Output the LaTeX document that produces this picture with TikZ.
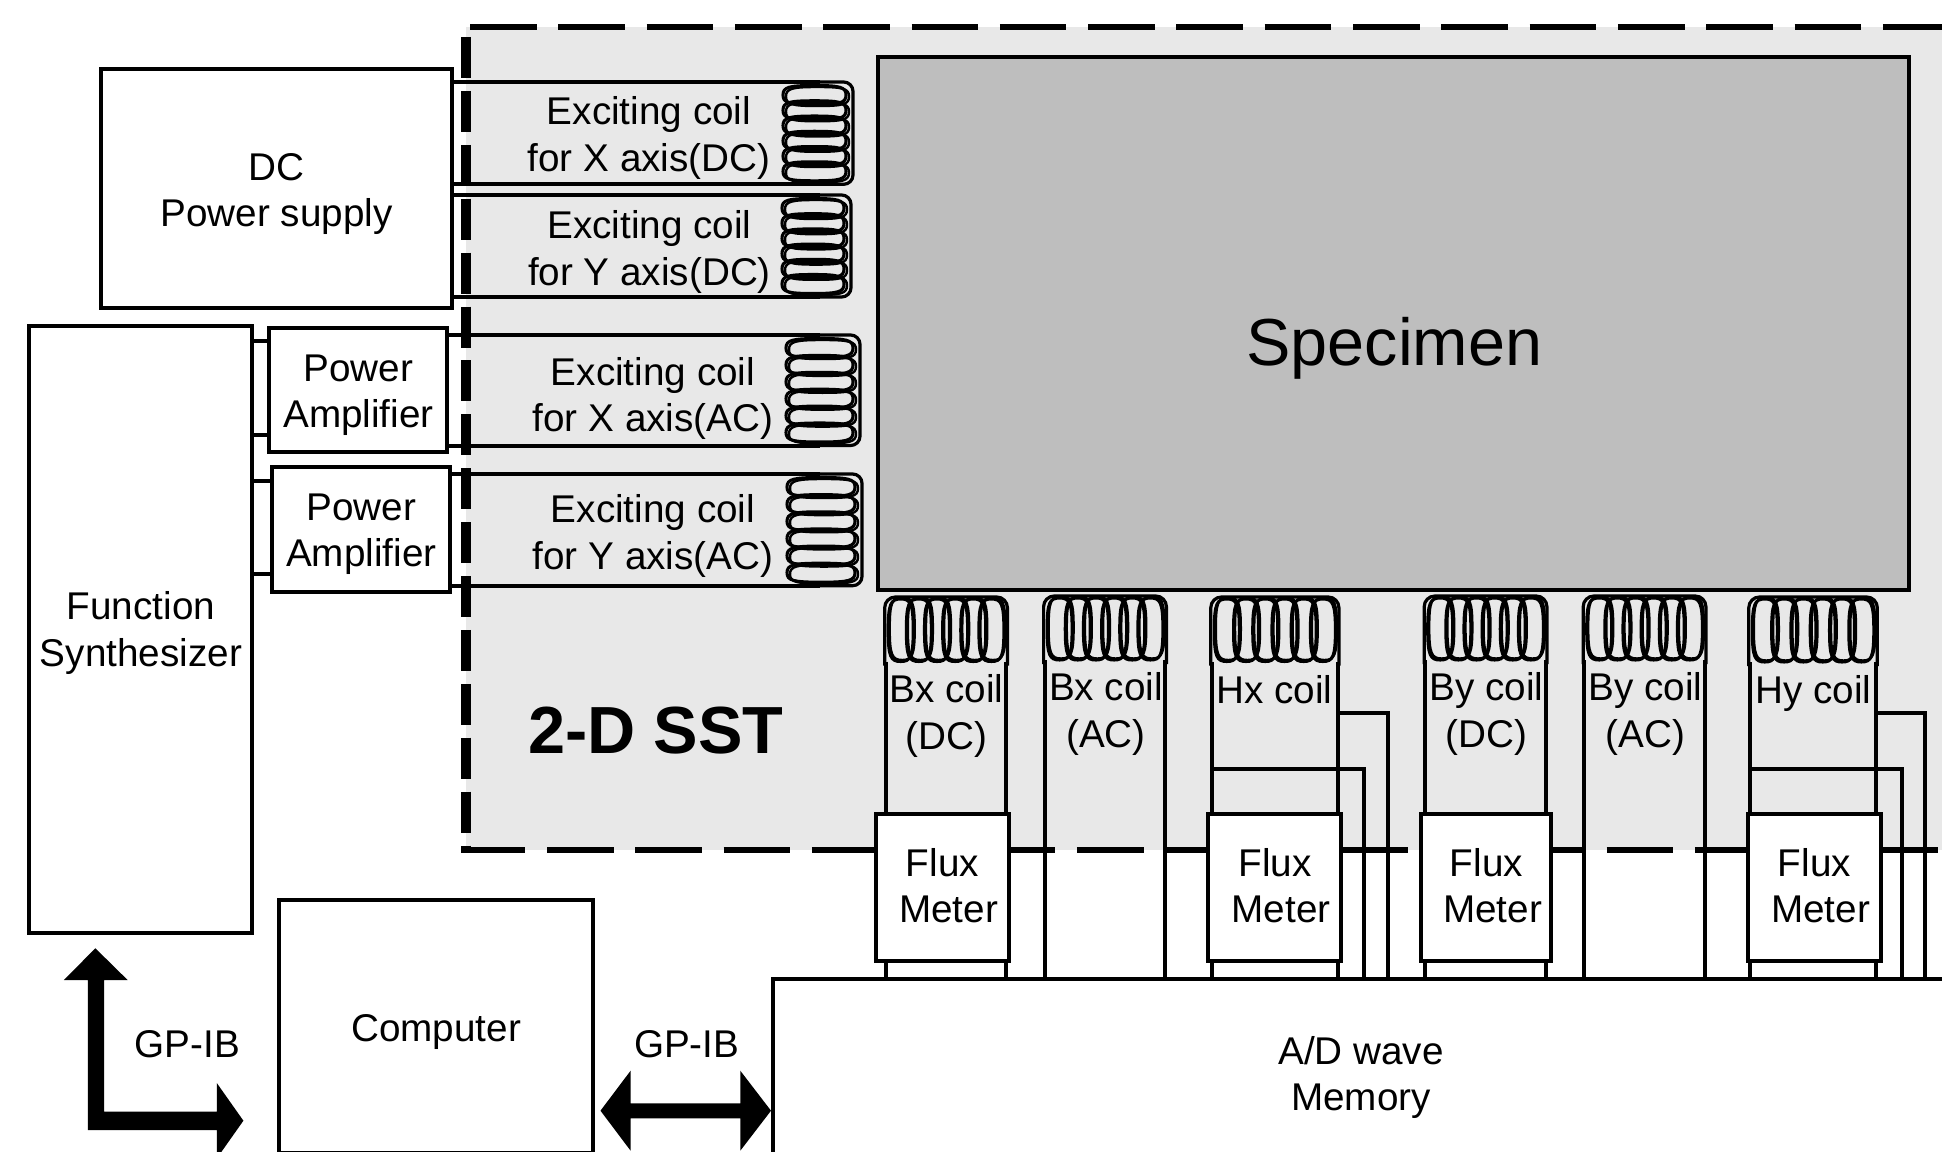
\documentclass[tikz,border=0pt]{standalone}
\usepackage{fontspec}
\setmainfont{Liberation Sans}
\definecolor{sstgray}{HTML}{E8E8E8}
\definecolor{specgray}{HTML}{BEBEBE}
\newdimen\pxu \pxu=0.75pt
% first baseline of the text sits (dx,dy) px from the node centre
\newcommand{\lbl}[3]{\makebox[0pt]{\kern#1\pxu\kern#1\pxu\raisebox{-#2\pxu}[0pt][0pt]{\begin{tabular}[t]{@{}c@{}}#3\end{tabular}}}}
\newcommand{\fluxtxt}{Flux\kern9pt\\Meter}
\tikzset{
  every node/.style={inner sep=0pt,outer sep=0pt,font=\fontsize{29}{35}\selectfont},
  sz/.style 2 args={minimum width=#1*0.75pt,minimum height=#2*0.75pt},
  boxnode/.style={draw=black,line width=3pt,fill=white,rectangle},
  wire/.style={draw=black,line width=3pt},
  backloop/.style={draw=black,line width=1.8pt},
  frontloop/.style={draw=black,line width=2.3pt},
  topdash/.style={draw=black,line width=5.2pt,dash pattern=on 50pt off 16.225pt},
  leftdash/.style={draw=black,line width=7.5pt,dash pattern=on 30.75pt off 9.675pt},
  bigarrow/.style={fill=black,draw=none},
}
% squarish closed loop: centre, half width, half height, style
\newcommand{\sqloop}[5]{%
  \draw[#5] ({#1-#3},{#2}) .. controls ({#1-#3},{#2-.85*#4}) and ({#1-.8*#3},{#2-#4}) .. ({#1},{#2-#4})
    .. controls ({#1+.8*#3},{#2-#4}) and ({#1+#3},{#2-.85*#4}) .. ({#1+#3},{#2})
    .. controls ({#1+#3},{#2+.85*#4}) and ({#1+.8*#3},{#2+#4}) .. ({#1},{#2+#4})
    .. controls ({#1-.8*#3},{#2+#4}) and ({#1-#3},{#2+.85*#4}) .. cycle;
}
\newcommand{\hcoil}[4]{% xl xr yt yb
  \pgfmathsetmacro{\st}{(#4-#3-26)/5}
  \pgfmathsetmacro{\mx}{(#1+#2-7)/2}
  \pgfmathsetmacro{\rx}{(#2-#1-7)/2}
  \foreach \i in {0,...,5}{
    \pgfmathsetmacro{\cy}{#3+13+\i*\st}
    \sqloop{\mx+3}{\cy+1.5}{\rx}{9.5}{backloop}
    \sqloop{\mx}{\cy}{\rx}{9.5}{frontloop}
  }
  \draw[wire,line width=2.4pt,rounded corners=7pt] (#1+30,#3) -- (#2,#3) -- (#2,#4) -- (#1+30,#4);
}
\newcommand{\vcoil}[5]{% name xl xr yt yb
  \pgfmathsetmacro{\st}{(#3-#2-6-24)/5}
  \pgfmathsetmacro{\my}{(#4+#5+2)/2}
  \pgfmathsetmacro{\ry}{(#5-#4-2)/2}
  \foreach \i in {0,...,5}{
    \pgfmathsetmacro{\cx}{#2+3+12+\i*\st}
    \sqloop{\cx+1.5}{\my-1.5}{12.5}{\ry}{backloop}
    \sqloop{\cx}{\my}{12.5}{\ry}{frontloop}
  }
  \draw[wire,line width=2.4pt,rounded corners=8pt] (#2-1,#5+4) -- (#2-1,#4) -- (#3+1,#4) -- (#3+1,#5+4);
  \coordinate (#1l) at (#2,#5);
  \coordinate (#1r) at (#3,#5);
}
\begin{document}
\begin{tikzpicture}[x=0.75pt,y=-0.75pt]
\useasboundingbox (0,0) rectangle (1942,1152);
\clip (0,0) rectangle (1942,1152);
% SST region
\fill[sstgray] (466,27) rectangle (1942,850);
\draw[topdash] (470,27) -- (1942,27);
\draw[topdash,dash phase=1.7pt] (461,850) -- (1942,850);
\draw[leftdash] (466,37) -- (466,850);

% boxes that wires end on
\node[boxnode,sz={1227}{221}] (ad) at (1386.5,1089.5) {\lbl{-25.5}{-25.5}{A/D wave\\Memory}};
\node[boxnode,sz={351}{239}] (dc) at (276.2,188.8) {\lbl{0.5}{-8.8}{DC\\Power supply}};
\node[boxnode,sz={223}{606.7}] (fs) at (140.5,629.35) {\lbl{0.5}{-9.75}{Function\\Synthesizer}};
\node[boxnode,sz={178}{124.3}] (pa1) at (358,389.85) {\lbl{0.5}{-8.85}{Power\\Amplifier}};
\node[boxnode,sz={177.7}{125}] (pa2) at (360.85,529.2) {\lbl{0.5}{-9.2}{Power\\Amplifier}};
\node[boxnode,sz={314.4}{253}] (pc) at (436.2,1026.5) {\lbl{0}{15.2}{Computer}};

% exciting coil wires
\coordinate (xd1) at (820,82);  \coordinate (xd2) at (820,184.3);
\coordinate (yd1) at (820,195); \coordinate (yd2) at (820,297);
\coordinate (xa1) at (820,335); \coordinate (xa2) at (820,445.5);
\coordinate (ya1) at (820,474); \coordinate (ya2) at (820,585.7);
\foreach \a/\b in {dc/xd1,dc/xd2,dc/yd1,dc/yd2,pa1/xa1,pa1/xa2,pa2/ya1,pa2/ya2}
  \draw[wire] (\a.east |- \b) -- (\b);
\hcoil{783}{853}{82}{184.3}
\hcoil{782}{851}{195}{297}
\hcoil{786}{860}{335}{445.5}
\hcoil{787}{862}{474}{585.7}

% function synthesizer to amplifiers
\coordinate (f1) at (0,341.3); \coordinate (f2) at (0,435.3);
\coordinate (f3) at (0,480.7); \coordinate (f4) at (0,574.3);
\draw[wire] (fs.east |- f1) -- (pa1.west |- f1);
\draw[wire] (fs.east |- f2) -- (pa1.west |- f2);
\draw[wire] (fs.east |- f3) -- (pa2.west |- f3);
\draw[wire] (fs.east |- f4) -- (pa2.west |- f4);

% specimen
\node[boxnode,fill=specgray,sz={1031}{533}] (spec) at (1393.5,323.5) {\fontsize{49.9}{60}\selectfont\lbl{1}{41.5}{Specimen}};

% search coils
\vcoil{ba}{885.7}{1006.4}{597}{661.5}
\vcoil{bb}{1044.6}{1165.4}{596}{660}
\vcoil{ha}{1211.8}{1337.9}{597}{661.5}
\vcoil{bc}{1425.2}{1545.9}{596}{660}
\vcoil{bd}{1584.2}{1704.9}{596}{660}
\vcoil{hb}{1749.8}{1876.3}{597}{662}
\foreach \c in {ba,bb,ha,bc,bd,hb}{
  \draw[wire] (\c l) -- (\c l |- ad.north);
  \draw[wire] (\c r) -- (\c r |- ad.north);
}
% H coil leads
\coordinate (haA) at (1364.3,769); \coordinate (haB) at (1388,713.3);
\coordinate (hbA) at (1902,769);   \coordinate (hbB) at (1925.4,713.3);
\draw[wire] (hal |- haA) -- (haA) -- (haA |- ad.north);
\draw[wire] (har |- haB) -- (haB) -- (haB |- ad.north);
\draw[wire] (hbl |- hbA) -- (hbA) -- (hbA |- ad.north);
\draw[wire] (hbr |- hbB) -- (hbB) -- (hbB |- ad.north);

% flux meters
\node[boxnode,sz={133}{147}] (fma) at (942.5,887.5) {\lbl{6}{-11.5}{\fluxtxt}};
\node[boxnode,sz={133.4}{147}] (fmb) at (1274.7,887.5) {\lbl{6.3}{-11.5}{\fluxtxt}};
\node[boxnode,sz={130.7}{147}] (fmc) at (1486,887.5) {\lbl{6.5}{-11.5}{\fluxtxt}};
\node[boxnode,sz={132.6}{147}] (fmd) at (1814.7,887.5) {\lbl{5.8}{-11.5}{\fluxtxt}};

% free labels
\node (exa) at (649,125) {\lbl{0}{0}{Exciting coil\\for X axis(DC)}};
\node (exb) at (649.5,238.8) {\lbl{0}{0}{Exciting coil\\for Y axis(DC)}};
\node (exc) at (653,385) {\lbl{0}{0}{Exciting coil\\for X axis(AC)}};
\node (exd) at (653,522.5) {\lbl{0}{0}{Exciting coil\\for Y axis(AC)}};
\node (sst) at (655.8,753.3) {\fontsize{50}{60}\selectfont\bfseries\lbl{0}{0}{2-D SST}};
\node (lba) at (946.5,702.5) {\lbl{0}{0}{Bx coil\\(DC)}};
\node (lbb) at (1106,700.5) {\lbl{0}{0}{Bx coil\\(AC)}};
\node (lha) at (1274.5,703) {\lbl{0}{0}{Hx coil}};
\node (lbc) at (1486.6,700.5) {\lbl{0}{0}{By coil\\(DC)}};
\node (lbd) at (1645.4,700.5) {\lbl{0}{0}{By coil\\(AC)}};
\node (lhb) at (1813.4,703) {\lbl{0}{0}{Hy coil}};
\node (gpa) at (187.5,1057.7) {\lbl{0}{0}{GP-IB}};
\node (gpb) at (686.7,1057.2) {\lbl{0}{0}{GP-IB}};

% GP-IB arrows
\fill[bigarrow] (95.4,948.3) -- (127.6,980) -- (104,980) -- (104,1111.7) -- (216.8,1111.7)
  -- (216.8,1083) -- (243.4,1120.7) -- (216.8,1158.4) -- (216.8,1130) -- (87.8,1130)
  -- (87.8,980) -- (63.8,980) -- cycle;
\fill[bigarrow] (600.5,1110.7) -- (630.6,1070.7) -- (630.6,1103.3) -- (740.3,1103.3)
  -- (740.3,1070.7) -- (771,1110.7) -- (740.3,1150.7) -- (740.3,1118.3)
  -- (630.6,1118.3) -- (630.6,1150.7) -- cycle;
\end{tikzpicture}
\end{document}
